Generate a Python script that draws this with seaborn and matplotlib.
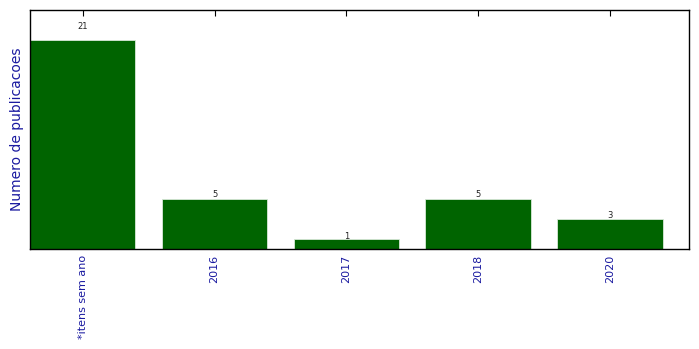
import matplotlib
matplotlib.use("Agg")
import matplotlib.pyplot as plt
import seaborn as sns
import pandas as pd

categories = ["*itens sem ano", "2016", "2017", "2018", "2020"]
counts = [21, 5, 1, 5, 3]

df = pd.DataFrame({"cat": categories, "n": counts})

sns.set_style("white")
plt.rcParams['font.family'] = ['DejaVu Sans']

fig = plt.figure(figsize=(6.99, 3.49), dpi=100)
ax = fig.add_axes([30/699, 1 - 249/349, 659/699, 239/349])

sns.barplot(data=df, x="cat", y="n", color="#006400", saturation=1,
            width=0.8, edgecolor="#d8e8d8", linewidth=0.6, ax=ax)

for i, v in enumerate(counts):
    ax.text(i, v * 1.05, "%d" % v, ha="center", va="baseline", fontsize=6, color="#222222")

ax.set_xlim(-0.4, 4.6)
ax.set_ylim(0, 24)
ax.set_yticks([])
ax.set_xlabel("")
ax.set_ylabel("Numero de publicacoes", fontsize=10, color="#1a1aa0")
ax.tick_params(axis="x", direction="in", top=True, bottom=True, length=4,
               width=0.8, color="black", labelsize=8, labelcolor="#1a1aa0",
               labelrotation=90, pad=4)
for s in ax.spines.values():
    s.set_visible(True)
    s.set_color("black")
    s.set_linewidth(1.0)

fig.savefig("out.png", dpi=100, facecolor="white")
